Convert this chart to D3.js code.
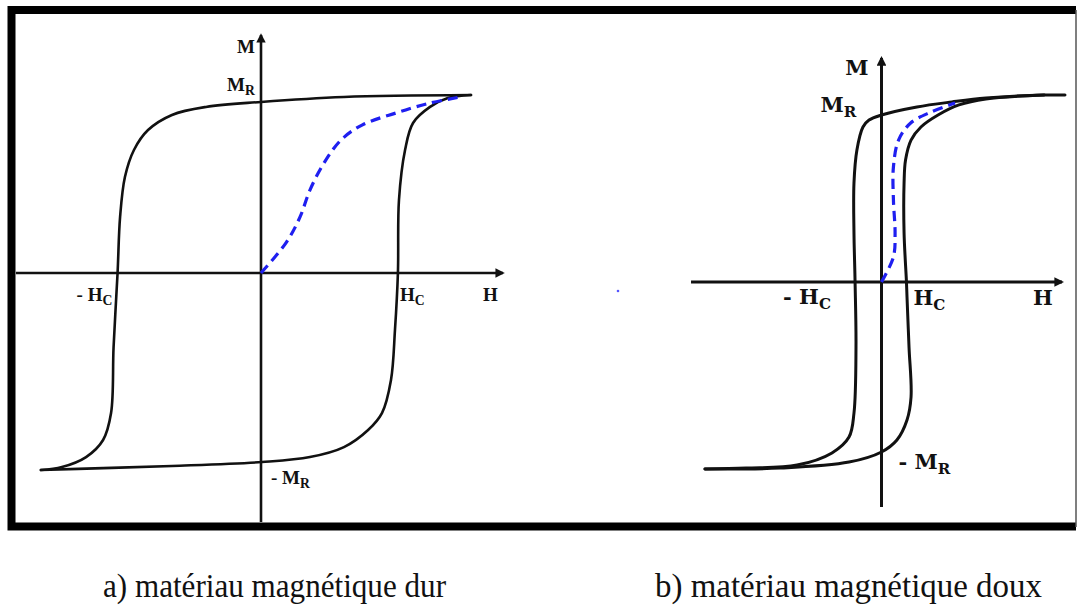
<!DOCTYPE html>
<html lang="fr">
<head>
<meta charset="UTF-8">
<style>
  body { margin: 0; background: #fff; }
  text { fill: #111; }
</style>
</head>
<body>
<div id="chart"></div>
<script src="https://cdn.jsdelivr.net/npm/d3@7"></script>
<script>
// --- hysteresis loops, values (H, M normalised to the tip = 1) ---
var hardUpper = [[1.000, 1.000], [0.395, 0.989], [0.000, 0.961], [-0.262, 0.933], [-0.424, 0.888],
                 [-0.538, 0.803], [-0.605, 0.691], [-0.648, 0.539], [-0.671, 0.315], [-0.683, 0],
                 [-0.702, -0.416], [-0.714, -0.787], [-0.752, -0.938], [-0.833, -1.034],
                 [-0.948, -1.090], [-1.048, -1.107]];
var hardLower = [[-1.048, -1.107], [-0.752, -1.096], [-0.424, -1.084], [0.005, -1.062], [0.233, -1.034],
                 [0.395, -0.978], [0.510, -0.882], [0.576, -0.787], [0.619, -0.601], [0.638, -0.320],
                 [0.652, 0], [0.657, 0.410], [0.686, 0.691], [0.724, 0.843], [0.805, 0.933],
                 [0.890, 0.983], [1.000, 1.000]];
var hardFirst = [[0, 0], [0.119, 0.169], [0.186, 0.315], [0.233, 0.466], [0.300, 0.618], [0.381, 0.747],
                 [0.481, 0.831], [0.643, 0.899], [0.805, 0.955], [0.952, 0.989]];

var softUpper = [[1.000, 1.000], [0.886, 1.000], [0.569, 0.984], [0.384, 0.963], [0.193, 0.936],
                 [0, 0.893], [-0.068, 0.866], [-0.101, 0.829], [-0.134, 0.706], [-0.150, 0.529],
                 [-0.150, 0.262], [-0.144, 0], [-0.139, -0.348], [-0.150, -0.701], [-0.177, -0.829],
                 [-0.270, -0.914], [-0.460, -0.979], [-0.738, -0.995], [-0.962, -1.000]];
var softLower = [[-0.962, -1.000], [-0.553, -0.995], [-0.177, -0.963], [0, -0.909], [0.084, -0.845],
                 [0.139, -0.738], [0.161, -0.615], [0.150, -0.348], [0.139, -0.080], [0.136, 0],
                 [0.123, 0.262], [0.123, 0.529], [0.131, 0.652], [0.161, 0.759], [0.215, 0.829],
                 [0.308, 0.893], [0.422, 0.947], [0.569, 0.979], [0.886, 1.000]];
var softFirst = [[0, 0], [0.065, 0.134], [0.074, 0.262], [0.065, 0.439], [0.065, 0.615], [0.093, 0.759],
                 [0.159, 0.850], [0.270, 0.909], [0.401, 0.957]];

// axis extents [Hmin, Hmax, Mmin, Mmax]
var hardAxes = [-1.167, 1.152, -1.399, 1.337];
var softAxes = [-1.038, 0.984, -1.203, 1.198];

var captions = ["a) matériau magnétique dur", "b) matériau magnétique doux"];

var width = 1078, height = 610;
var serif = "'Liberation Serif', 'Times New Roman', Times, serif";

var svg = d3.select("#chart").append("svg")
    .attr("width", width)
    .attr("height", height);

var defs = svg.append("defs");
["arrL", "arrR"].forEach(function(id, i) {
  defs.append("marker")
      .attr("id", id)
      .attr("viewBox", "0 0 10 10")
      .attr("refX", 8).attr("refY", 5)
      .attr("markerWidth", i ? 3.2 : 3.6).attr("markerHeight", i ? 3.2 : 3.6)
      .attr("orient", "auto")
    .append("path")
      .attr("d", "M0,0 L10,5 L0,10 z")
      .attr("fill", "#111");
});

// frame
svg.append("path")
    .attr("d", "M1076,10 H11.5 V526.5 H1076")
    .attr("fill", "none").attr("stroke", "#000").attr("stroke-width", 8);
svg.append("line")
    .attr("x1", 1076).attr("x2", 1076).attr("y1", 10).attr("y2", 527)
    .attr("stroke", "#555").attr("stroke-width", 1.5);

function panel(cfg) {
  var x = d3.scaleLinear().domain([-1, 1]).range(cfg.xr);
  var y = d3.scaleLinear().domain([-1, 1]).range(cfg.yr);
  var g = svg.append("g");
  var line = d3.line()
      .x(function(d) { return x(d[0]); })
      .y(function(d) { return y(d[1]); })
      .curve(d3.curveCatmullRom.alpha(0.5));

  // axes
  g.append("line")
      .attr("x1", x(cfg.axes[0])).attr("x2", x(cfg.axes[1]))
      .attr("y1", y(0)).attr("y2", y(0))
      .attr("stroke", "#111").attr("stroke-width", cfg.sw)
      .attr("marker-end", "url(#" + cfg.marker + ")");
  g.append("line")
      .attr("x1", x(0)).attr("x2", x(0))
      .attr("y1", y(cfg.axes[2])).attr("y2", y(cfg.axes[3]))
      .attr("stroke", "#111").attr("stroke-width", cfg.sw)
      .attr("marker-end", "url(#" + cfg.marker + ")");

  [cfg.upper, cfg.lower].forEach(function(d) {
    g.append("path").datum(d)
        .attr("d", line)
        .attr("fill", "none")
        .attr("stroke", "#111")
        .attr("stroke-width", cfg.sw)
        .attr("stroke-linecap", "round");
  });
  g.append("path").datum(cfg.first)
      .attr("d", line)
      .attr("fill", "none")
      .attr("stroke", "#1f1ff0")
      .attr("stroke-width", 3.2)
      .attr("stroke-dasharray", "10,6");

  return { g: g, x: x, y: y };
}

function label(g, px, py, main, sub, size, weight, family, anchor) {
  var t = g.append("text")
      .attr("x", px).attr("y", py)
      .attr("font-family", family)
      .attr("font-size", size)
      .attr("font-weight", weight)
      .attr("text-anchor", anchor || "start");
  t.append("tspan").text(main);
  if (sub) {
    t.append("tspan")
        .attr("font-size", size * 0.72)
        .attr("dy", size * 0.22)
        .text(sub);
  }
  return t;
}

// a) hard material
var A = panel({ xr: [51, 471], yr: [451, 95], axes: hardAxes,
                upper: hardUpper, lower: hardLower, first: hardFirst,
                sw: 2.6, marker: "arrL" });
var fa = 19;
label(A.g, A.x(0) - 6, 53, "M", null, fa, "bold", serif, "end");
label(A.g, A.x(0) - 34, 91, "M", "R", fa, "bold", serif);
label(A.g, A.x(hardUpper[9][0]) - 41, 301, "- H", "C", fa, "bold", serif);
label(A.g, A.x(hardLower[10][0]) + 2, 301, "H", "C", fa, "bold", serif);
label(A.g, A.x(hardAxes[1]) - 20, 301, "H", null, fa, "bold", serif);
label(A.g, A.x(0) + 10, 484, "- M", "R", fa, "bold", serif);

// b) soft material
var B = panel({ xr: [698, 1065], yr: [469, 95], axes: softAxes,
                upper: softUpper, lower: softLower, first: softFirst,
                sw: 3, marker: "arrR" });
var fb = 21, sb = "'DejaVu Serif', serif";
label(B.g, B.x(0) - 13, 75, "M", null, fb, "bold", sb, "end");
label(B.g, B.x(0) - 61, 112, "M", "R", fb, "bold", sb);
label(B.g, B.x(softUpper[11][0]) - 72, 304, "- H", "C", fb, "bold", sb);
label(B.g, B.x(softLower[9][0]) + 7, 305, "H", "C", fb, "bold", sb);
label(B.g, B.x(softAxes[1]) - 29, 305, "H", null, fb, "bold", sb);
label(B.g, B.x(0) + 17, 469, "- M", "R", fb, "bold", sb);

// stray blue speck in the source picture
svg.append("circle").attr("cx", 618).attr("cy", 291).attr("r", 1.3).attr("fill", "#5555ff");

// captions (tall, condensed serif)
var capX = [103, 655], capW = [343, 387];
captions.forEach(function(c, i) {
  svg.append("text")
      .attr("x", capX[i]).attr("y", 597)
      .attr("font-family", serif)
      .attr("font-size", 34)
      .attr("textLength", capW[i])
      .attr("lengthAdjust", "spacingAndGlyphs")
      .text(c);
});
</script>
</body>
</html>
